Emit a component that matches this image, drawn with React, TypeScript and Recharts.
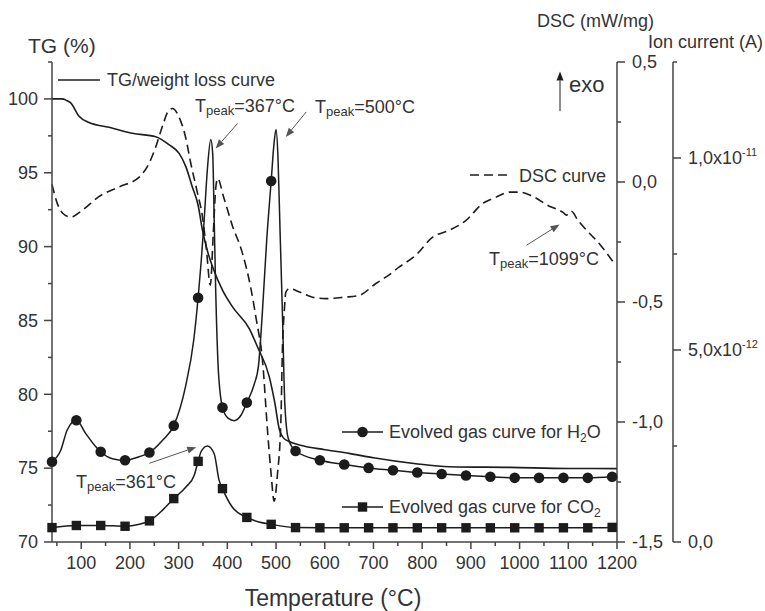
import React from 'react';
import { ComposedChart, Line, XAxis, YAxis, ReferenceLine } from 'recharts';

const FONT = '"Liberation Sans", Arial, Helvetica, sans-serif';
const INK = '#1c1c1c';
const AXIS = '#454545';
const TEXT = '#333';
const GREY = '#555';

// temperatures of the MS sampling points (markers)
const markTemps = [40, 90, 140, 190, 240, 290, 340, 390, 440, 490, 540, 590, 640, 690, 740, 790, 840, 890, 940, 990, 1040, 1090, 1140, 1190];

// ion current, in units of 1e-12 A
const h2oAtMarks = [2.09, 3.17, 2.35, 2.13, 2.33, 3.03, 6.36, 3.5, 3.63, 9.4, 2.37, 2.13, 2.02, 1.93, 1.87, 1.81, 1.77, 1.73, 1.7, 1.67, 1.67, 1.67, 1.67, 1.7];
const h2oExtraTemps = [58, 71, 109, 130, 164, 219, 267, 314, 331, 346, 352, 359, 366, 370, 373, 376, 381, 386, 402, 414, 428, 455, 464, 472, 481, 496, 500, 504, 508, 513, 518, 525];
const h2oExtraValues = [2.39, 2.91, 2.83, 2.48, 2.17, 2.22, 2.65, 4.04, 5.26, 7.26, 8.3, 9.7, 10.48, 10.1, 8.4, 6.6, 4.6, 3.8, 3.22, 3.16, 3.3, 4.1, 4.6, 6.0, 7.9, 10.4, 10.74, 10.0, 8.2, 6.0, 3.6, 2.7];

const co2AtMarks = [0.375, 0.43, 0.43, 0.41, 0.55, 1.13, 2.1, 1.39, 0.64, 0.46, 0.375, 0.37, 0.37, 0.37, 0.37, 0.37, 0.37, 0.37, 0.37, 0.37, 0.37, 0.37, 0.37, 0.38];
const co2ExtraTemps = [219, 267, 315, 332, 346, 359, 373, 383, 410, 465];
const co2ExtraValues = [0.46, 0.83, 1.43, 1.74, 2.35, 2.5, 2.3, 1.61, 0.91, 0.52];

// TG (%)
const tgTemps = [40, 61, 70, 78, 95, 116, 157, 205, 253, 280, 301, 315, 328, 340, 349, 360, 370, 390, 411, 445, 462, 486, 497, 507, 515, 527, 550, 600, 650, 700, 787, 856, 980, 1100, 1200];
const tgValues = [100, 100, 99.9, 99.75, 98.85, 98.4, 98.08, 97.67, 97.44, 96.9, 96.31, 95.4, 94.05, 92.8, 91.1, 89.6, 88.6, 87.05, 85.9, 84.45, 83.2, 81.2, 79.5, 77.6, 77.05, 76.8, 76.55, 76.25, 76.0, 75.7, 75.3, 75.1, 75.05, 74.98, 74.97];

// DSC (mW/mg)
const dscTemps = [40, 51, 62, 78, 102, 137, 178, 219, 239, 253, 268, 280, 287, 301, 315, 325, 338, 349, 357, 365, 371, 376, 380, 392, 410, 430, 448, 460, 472, 483, 490, 496, 503, 510, 513, 517, 520, 527, 548, 575, 602, 640, 671, 705, 730, 753, 787, 822, 856, 890, 924, 952, 979, 1000, 1027, 1060, 1090, 1096, 1106, 1120, 1137, 1165, 1192];
const dscValues = [-0.01, -0.09, -0.13, -0.146, -0.118, -0.06, -0.02, 0.02, 0.077, 0.146, 0.24, 0.3, 0.306, 0.27, 0.18, 0.077, -0.04, -0.146, -0.28, -0.43, -0.22, -0.03, 0.015, -0.06, -0.18, -0.29, -0.44, -0.58, -0.74, -1.05, -1.22, -1.33, -1.215, -0.99, -0.7, -0.535, -0.46, -0.444, -0.458, -0.48, -0.486, -0.48, -0.472, -0.423, -0.39, -0.354, -0.305, -0.229, -0.201, -0.16, -0.09, -0.063, -0.042, -0.042, -0.06, -0.1, -0.128, -0.138, -0.122, -0.16, -0.2, -0.26, -0.333];

const xTicks = [50, 100, 150, 200, 250, 300, 350, 400, 450, 500, 550, 600, 650, 700, 750, 800, 850, 900, 950, 1000, 1050, 1100, 1150, 1200];
const tgTicks = [70, 72.5, 75, 77.5, 80, 82.5, 85, 87.5, 90, 92.5, 95, 97.5, 100, 102.5];
const dscTicks = [-1.5, -1.25, -1, -0.75, -0.5, -0.25, 0, 0.25, 0.5];
const ionTicks = [0, 2.5, 5, 7.5, 10, 12.5];

// annotation arrows [temperature, value] on the given axis
const arrows = [
    { axis: 'ion', from: [421, 10.9], to: [376, 10.25], color: GREY },
    { axis: 'ion', from: [562, 11.2], to: [520, 10.55], color: GREY },
    { axis: 'ion', from: [240, 2.05], to: [336, 2.47], color: GREY },
    { axis: 'dsc', from: [1014, -0.264], to: [1082, -0.177], color: GREY },
    { axis: 'dsc', from: [1083, 0.295], to: [1083, 0.46], color: INK },
];

const zip = (ts: number[], vs: number[]) => ts.map((t, i) => ({ t, v: vs[i] }));
const merge = (a: { t: number; v: number }[], b: { t: number; v: number }[]) => [...a, ...b].sort((p, q) => p.t - q.t);

const tgData = zip(tgTemps, tgValues);
const dscData = zip(dscTemps, dscValues);
const h2oData = merge(zip(markTemps, h2oAtMarks), zip(h2oExtraTemps, h2oExtraValues));
const co2Data = merge(zip(markTemps, co2AtMarks), zip(co2ExtraTemps, co2ExtraValues));
const markSet = new Set(markTemps);

const comma = (v: number) => v.toFixed(1).replace('.', ',');

const XTick = ({ x, y, payload }: any) => {
    const v = payload.value;
    const major = v % 100 === 0;
    return (
        <g>
            <line x1={x} x2={x} y1={y} y2={y + (major ? 7 : 4)} stroke={AXIS} strokeWidth={1.5} />
            {major && (
                <text x={x} y={y + 27} textAnchor="middle" fontSize={18} fill={TEXT} fontFamily={FONT}>{v}</text>
            )}
        </g>
    );
};

const TgTick = ({ x, y, payload }: any) => {
    const v = payload.value;
    const major = v % 5 === 0;
    return (
        <g>
            <line x1={x - (major ? 8 : 4)} x2={x} y1={y} y2={y} stroke={AXIS} strokeWidth={1.5} />
            {major && (
                <text x={x - 14} y={y} dy="0.35em" textAnchor="end" fontSize={18} fill={TEXT} fontFamily={FONT}>{v}</text>
            )}
        </g>
    );
};

const DscTick = ({ x, y, payload }: any) => {
    const v = payload.value;
    const major = Math.abs(v * 2 - Math.round(v * 2)) < 1e-6;
    return (
        <g>
            <line x1={x} x2={x + (major ? 8 : 4)} y1={y} y2={y} stroke={AXIS} strokeWidth={1.5} />
            {major && (
                <text x={x + 15} y={y} dy="0.35em" fontSize={18} fill={TEXT} fontFamily={FONT}>{comma(v)}</text>
            )}
        </g>
    );
};

const IonTick = ({ x, y, payload }: any) => {
    const v = payload.value;
    const major = v % 5 === 0;
    let label: React.ReactNode = null;
    if (major) {
        if (v === 0) {
            label = '0,0';
        } else {
            const [m, e] = (v * 1e-12).toExponential(1).split('e');
            label = (
                <>
                    {m.replace('.', ',')}x10<tspan dy={-8} fontSize={11}>{e}</tspan>
                </>
            );
        }
    }
    return (
        <g>
            <line x1={x} x2={x + (major ? 8 : 4)} y1={y} y2={y} stroke={AXIS} strokeWidth={1.5} />
            {major && (
                <text x={x + 15} y={y} dy="0.35em" fontSize={18} fill={TEXT} fontFamily={FONT}>{label}</text>
            )}
        </g>
    );
};

const arrowShape = (color: string) => (p: any) => {
    const { x1, y1, x2, y2 } = p;
    if (x1 == null || x2 == null) return <g />;
    const a = Math.atan2(y2 - y1, x2 - x1);
    const L = 9;
    const W = 3.5;
    const bx = x2 - L * Math.cos(a);
    const by = y2 - L * Math.sin(a);
    const pts = `${x2},${y2} ${bx - W * Math.sin(a)},${by + W * Math.cos(a)} ${bx + W * Math.sin(a)},${by - W * Math.cos(a)}`;
    return (
        <g>
            <line x1={x1} y1={y1} x2={bx} y2={by} stroke={color} strokeWidth={1} />
            <polygon points={pts} fill={color} />
        </g>
    );
};

const circleDot = (p: any) =>
    markSet.has(p.payload.t)
        ? <circle key={`c${p.index}`} cx={p.cx} cy={p.cy} r={5.3} fill={INK} />
        : <g key={`c${p.index}`} />;

const squareDot = (p: any) =>
    markSet.has(p.payload.t)
        ? <rect key={`s${p.index}`} x={p.cx - 4.7} y={p.cy - 4.7} width={9.4} height={9.4} fill={INK} />
        : <g key={`s${p.index}`} />;

const Peak = ({ x, y, temp }: { x: number; y: number; temp: string }) => (
    <text x={x} y={y} fontSize={18} fill={TEXT}>
        T<tspan fontSize={13} dy={3}>peak</tspan><tspan dy={-3}>={temp}°C</tspan>
    </text>
);

export default function App() {
    return (
        <div style={{ position: 'absolute', left: 0, top: 0, width: 765, height: 611, background: '#fff' }}>
            <ComposedChart width={765} height={611} margin={{ top: 62, right: 0, bottom: 0, left: 0 }}>
                <XAxis
                    dataKey="t"
                    type="number"
                    domain={[40, 1200]}
                    ticks={xTicks}
                    interval={0}
                    height={69}
                    tickSize={0}
                    tickMargin={0}
                    tickLine={false}
                    stroke={AXIS}
                    strokeWidth={1.5}
                    tick={<XTick />}
                />
                <YAxis
                    yAxisId="tg"
                    orientation="left"
                    width={52}
                    domain={[70, 102.5]}
                    ticks={tgTicks}
                    interval={0}
                    tickSize={0}
                    tickMargin={0}
                    tickLine={false}
                    stroke={AXIS}
                    strokeWidth={1.5}
                    tick={<TgTick />}
                />
                <YAxis
                    yAxisId="dsc"
                    orientation="right"
                    width={56}
                    domain={[-1.5, 0.5]}
                    ticks={dscTicks}
                    interval={0}
                    tickSize={0}
                    tickMargin={0}
                    tickLine={false}
                    stroke={AXIS}
                    strokeWidth={1.5}
                    tick={<DscTick />}
                />
                <YAxis
                    yAxisId="ion"
                    orientation="right"
                    width={92}
                    domain={[0, 12.5]}
                    ticks={ionTicks}
                    interval={0}
                    tickSize={0}
                    tickMargin={0}
                    tickLine={false}
                    stroke={AXIS}
                    strokeWidth={1.5}
                    tick={<IonTick />}
                />

                <Line yAxisId="tg" data={tgData} dataKey="v" type="monotone" stroke={INK} strokeWidth={1.6} dot={false} isAnimationActive={false} />
                <Line yAxisId="dsc" data={dscData} dataKey="v" type="monotone" stroke={INK} strokeWidth={1.6} strokeDasharray="9 5" dot={false} isAnimationActive={false} />
                <Line yAxisId="ion" data={h2oData} dataKey="v" type="monotone" stroke={INK} strokeWidth={1.5} dot={circleDot} isAnimationActive={false} />
                <Line yAxisId="ion" data={co2Data} dataKey="v" type="monotone" stroke={INK} strokeWidth={1.5} dot={squareDot} isAnimationActive={false} />

                {arrows.map((a, i) => (
                    <ReferenceLine
                        key={i}
                        yAxisId={a.axis}
                        segment={[{ x: a.from[0], y: a.from[1] }, { x: a.to[0], y: a.to[1] }]}
                        shape={arrowShape(a.color)}
                    />
                ))}
            </ComposedChart>

            <svg width={765} height={611} style={{ position: 'absolute', left: 0, top: 0, pointerEvents: 'none' }} fontFamily={FONT} fill={TEXT}>
                <text x={28} y={53} fontSize={21}>TG (%)</text>
                <text x={537} y={27} fontSize={18}>DSC (mW/mg)</text>
                <text x={648} y={48} fontSize={18}>Ion current (A)</text>
                <text x={333} y={606} fontSize={23} textAnchor="middle">Temperature (°C)</text>

                {/* legends */}
                <line x1={58} x2={100} y1={80} y2={80} stroke={INK} strokeWidth={1.6} />
                <text x={107} y={86} fontSize={18}>TG/weight loss curve</text>

                <line x1={470} x2={512} y1={175} y2={175} stroke={INK} strokeWidth={1.6} strokeDasharray="9 5" />
                <text x={519} y={181.5} fontSize={18}>DSC curve</text>

                <line x1={342} x2={383} y1={432} y2={432} stroke={INK} strokeWidth={1.5} />
                <circle cx={362.5} cy={432} r={5.3} fill={INK} />
                <text x={389} y={438} fontSize={18}>
                    Evolved gas curve for H<tspan fontSize={12} dy={4}>2</tspan><tspan dy={-4}>O</tspan>
                </text>

                <line x1={342} x2={383} y1={507} y2={507} stroke={INK} strokeWidth={1.5} />
                <rect x={357.8} y={502.3} width={9.4} height={9.4} fill={INK} />
                <text x={389} y={513} fontSize={18}>
                    Evolved gas curve for CO<tspan fontSize={12} dy={4}>2</tspan>
                </text>

                {/* peak labels */}
                <Peak x={195} y={112} temp="367" />
                <Peak x={315} y={112.5} temp="500" />
                <Peak x={489} y={265} temp="1099" />
                <Peak x={76} y={488} temp="361" />

                <text x={569} y={92} fontSize={22}>exo</text>
            </svg>
        </div>
    );
}
